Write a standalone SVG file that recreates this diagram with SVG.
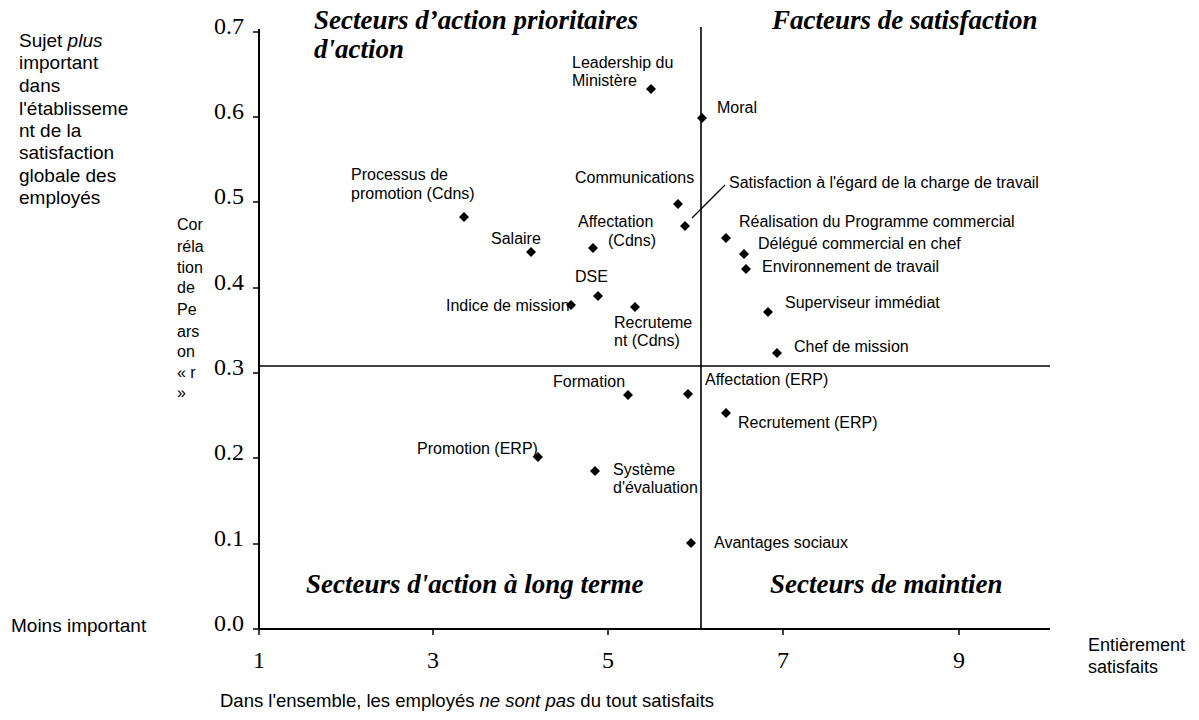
<svg xmlns="http://www.w3.org/2000/svg" width="1199" height="720" viewBox="0 0 1199 720">
<style>
text{font-family:"Liberation Sans",Arial,sans-serif;fill:#000}
.lbl{font-size:16px}
.side{font-size:19px}
.side18{font-size:18px}
.bot{font-size:18.5px}
.cor{font-size:16px}
text.tick{font-family:"Liberation Serif","Times New Roman",serif;font-size:24px}
text.quad{font-family:"Liberation Serif","Times New Roman",serif;font-size:27px;font-weight:bold;font-style:italic}
.axis{stroke:#000;stroke-width:2;fill:none}
.div{stroke:#000;stroke-width:1.6;fill:none}
.tk{stroke:#000;stroke-width:1.5}
.lead{stroke:#000;stroke-width:1.2;fill:none}
</style>
<defs>
<path id="dm" d="M0,-5 L5,0 L0,5 L-5,0 Z" fill="#000"/>
</defs>
<rect width="1199" height="720" fill="#fff"/>

<g id="axes">
<line class="axis" x1="259" y1="29" x2="259" y2="629"/>
<line class="axis" x1="259" y1="629" x2="1050" y2="629"/>
<line class="tk" x1="253" y1="32" x2="259" y2="32"/>
<line class="tk" x1="253" y1="117" x2="259" y2="117"/>
<line class="tk" x1="253" y1="202" x2="259" y2="202"/>
<line class="tk" x1="253" y1="288" x2="259" y2="288"/>
<line class="tk" x1="253" y1="373" x2="259" y2="373"/>
<line class="tk" x1="253" y1="458" x2="259" y2="458"/>
<line class="tk" x1="253" y1="544" x2="259" y2="544"/>
<line class="tk" x1="253" y1="629" x2="259" y2="629"/>
<line class="tk" x1="259" y1="629" x2="259" y2="635"/>
<line class="tk" x1="433" y1="629" x2="433" y2="635"/>
<line class="tk" x1="608" y1="629" x2="608" y2="635"/>
<line class="tk" x1="783" y1="629" x2="783" y2="635"/>
<line class="tk" x1="959" y1="629" x2="959" y2="635"/>
<g text-anchor="end">
<text class="tick" x="244" y="34">0.7</text>
<text class="tick" x="244" y="119">0.6</text>
<text class="tick" x="244" y="204">0.5</text>
<text class="tick" x="244" y="290">0.4</text>
<text class="tick" x="244" y="375">0.3</text>
<text class="tick" x="244" y="460">0.2</text>
<text class="tick" x="244" y="546">0.1</text>
<text class="tick" x="244" y="631">0.0</text>
</g>
<g text-anchor="middle">
<text class="tick" x="259" y="668">1</text>
<text class="tick" x="433" y="668">3</text>
<text class="tick" x="608" y="668">5</text>
<text class="tick" x="783" y="668">7</text>
<text class="tick" x="959" y="668">9</text>
</g>
</g>

<g id="dividers">
<line class="div" x1="259" y1="366" x2="1050" y2="366"/>
<line class="div" x1="701" y1="27" x2="701" y2="629"/>
</g>

<g id="quadrant-titles">
<text class="quad" x="314" y="29">Secteurs d’action prioritaires</text>
<text class="quad" x="314" y="58">d'action</text>
<text class="quad" x="772" y="29">Facteurs de satisfaction</text>
<text class="quad" x="306" y="593">Secteurs d'action à long terme</text>
<text class="quad" x="770" y="593">Secteurs de maintien</text>
</g>

<g id="axis-titles">
<text class="side" x="19" y="47">Sujet <tspan font-style="italic">plus</tspan></text>
<text class="side" x="19" y="69">important</text>
<text class="side" x="19" y="92">dans</text>
<text class="side" x="19" y="115">l'établisseme</text>
<text class="side" x="19" y="137">nt de la</text>
<text class="side" x="19" y="159">satisfaction</text>
<text class="side" x="19" y="182">globale des</text>
<text class="side" x="19" y="204">employés</text>
<text class="cor" x="177" y="230">Cor</text>
<text class="cor" x="177" y="252">réla</text>
<text class="cor" x="177" y="273">tion</text>
<text class="cor" x="177" y="293">de</text>
<text class="cor" x="177" y="315">Pe</text>
<text class="cor" x="177" y="337">ars</text>
<text class="cor" x="177" y="357">on</text>
<text class="cor" x="177" y="378">« r</text>
<text class="cor" x="177" y="398">»</text>
<text class="side" x="11" y="632">Moins important</text>
<text class="side18" x="1088" y="651">Entièrement</text>
<text class="side18" x="1088" y="673">satisfaits</text>
<text class="bot" x="220" y="707">Dans l'ensemble, les employés <tspan font-style="italic">ne sont pas</tspan> du tout satisfaits</text>
</g>

<g id="connectors">
<line class="lead" x1="692" y1="218" x2="725" y2="185"/>
</g>

<g id="n-leadership"><use href="#dm" x="651" y="89"/><text class="lbl" x="572" y="68">Leadership du</text><text class="lbl" x="572" y="86">Ministère</text></g>
<g id="n-moral"><use href="#dm" x="702" y="118"/><text class="lbl" x="717" y="113">Moral</text></g>
<g id="n-processus"><use href="#dm" x="464" y="217"/><text class="lbl" x="351" y="180">Processus de</text><text class="lbl" x="351" y="199">promotion (Cdns)</text></g>
<g id="n-communications"><use href="#dm" x="678" y="204"/><text class="lbl" x="575" y="183">Communications</text></g>
<g id="n-charge"><use href="#dm" x="685" y="226"/><text class="lbl" x="729" y="188">Satisfaction à l'égard de la charge de travail</text></g>
<g id="n-affectation-cdns"><use href="#dm" x="593" y="248"/><text class="lbl" x="578" y="227">Affectation</text><text class="lbl" x="608" y="246">(Cdns)</text></g>
<g id="n-salaire"><use href="#dm" x="531" y="252"/><text class="lbl" x="491" y="244">Salaire</text></g>
<g id="n-realisation"><use href="#dm" x="726" y="238"/><text class="lbl" x="739" y="227">Réalisation du Programme commercial</text></g>
<g id="n-delegue"><use href="#dm" x="744" y="254"/><text class="lbl" x="758" y="249">Délégué commercial en chef</text></g>
<g id="n-environnement"><use href="#dm" x="746" y="269"/><text class="lbl" x="762" y="272">Environnement de travail</text></g>
<g id="n-dse"><use href="#dm" x="598" y="296"/><text class="lbl" x="575" y="282">DSE</text></g>
<g id="n-indice"><use href="#dm" x="571" y="305"/><text class="lbl" x="446" y="311">Indice de mission</text></g>
<g id="n-recrutement-cdns"><use href="#dm" x="635" y="307"/><text class="lbl" x="614" y="328">Recruteme</text><text class="lbl" x="614" y="346">nt (Cdns)</text></g>
<g id="n-superviseur"><use href="#dm" x="768" y="312"/><text class="lbl" x="785" y="308">Superviseur immédiat</text></g>
<g id="n-chef"><use href="#dm" x="777" y="353"/><text class="lbl" x="794" y="352">Chef de mission</text></g>
<g id="n-formation"><use href="#dm" x="628" y="395"/><text class="lbl" x="553" y="387">Formation</text></g>
<g id="n-affectation-erp"><use href="#dm" x="688" y="394"/><text class="lbl" x="705" y="385">Affectation (ERP)</text></g>
<g id="n-recrutement-erp"><use href="#dm" x="726" y="413"/><text class="lbl" x="738" y="428">Recrutement (ERP)</text></g>
<g id="n-promotion-erp"><use href="#dm" x="538" y="457"/><text class="lbl" x="417" y="454">Promotion (ERP)</text></g>
<g id="n-systeme"><use href="#dm" x="595" y="471"/><text class="lbl" x="613" y="475">Système</text><text class="lbl" x="613" y="493">d'évaluation</text></g>
<g id="n-avantages"><use href="#dm" x="691" y="543"/><text class="lbl" x="714" y="548">Avantages sociaux</text></g>
</svg>
